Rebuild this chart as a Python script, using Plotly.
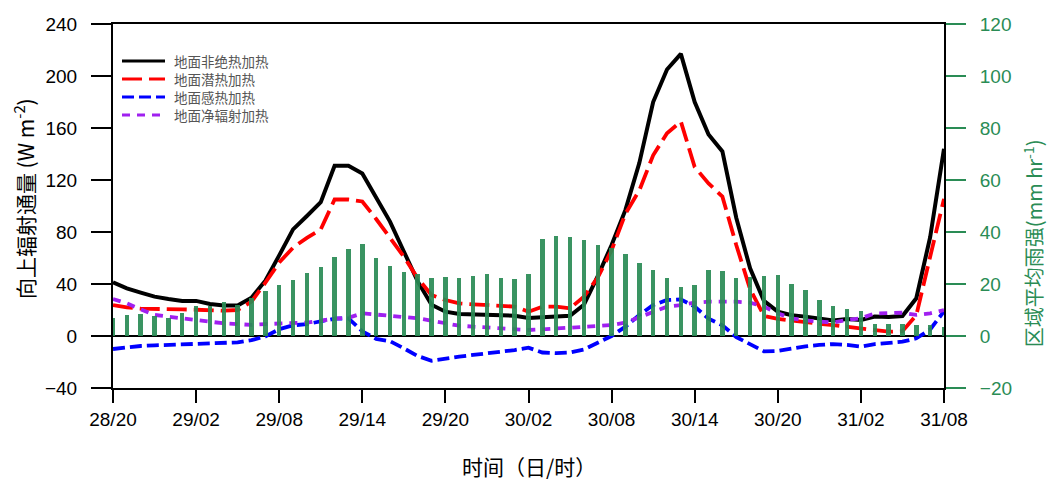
import plotly.graph_objects as go

# Hourly samples from 28/20 to 31/08 (61 hours)
hours = list(range(61))
tick_hours = [0, 6, 12, 18, 24, 30, 36, 42, 48, 54, 60]
tick_labels = ["28/20", "29/02", "29/08", "29/14", "29/20", "30/02",
               "30/08", "30/14", "30/20", "31/02", "31/08"]

# Surface diabatic heating (W m-2)
diabatic = [41.3, 36.7, 33.4, 30.3, 28.5, 27.0, 27.0, 24.6, 23.4, 23.4,
            29.5, 42.5, 62.0, 82.0, 92.3, 103.0, 131.0, 131.0, 125.0, 106.0,
            88.0, 65.0, 42.0, 24.0, 18.7, 16.9, 16.4, 16.2, 16.0, 15.6,
            13.8, 14.5, 14.5, 15.5, 24.0, 46.0, 70.0, 97.0, 133.0, 180.0,
            205.0, 217.0, 180.0, 155.0, 142.0, 91.0, 52.0, 27.0, 18.7, 16.0,
            14.9, 13.6, 12.0, 13.0, 12.3, 15.0, 14.6, 15.4, 29.0, 76.0,
            144.0]
# Surface latent heating
latent = [23.8, 22.0, 21.0, 21.0, 21.0, 20.5, 20.2, 19.8, 19.5, 20.0,
          26.4, 41.0, 56.5, 68.0, 75.5, 82.0, 105.0, 105.0, 103.5, 90.0,
          76.0, 61.0, 44.4, 31.5, 27.7, 25.1, 24.4, 23.8, 23.3, 22.6,
          18.7, 22.6, 22.6, 21.3, 30.3, 45.0, 66.0, 94.0, 112.0, 139.0,
          156.0, 165.0, 130.0, 117.4, 107.2, 70.0, 36.0, 15.5, 13.2, 11.7,
          10.3, 9.4, 8.4, 7.1, 6.0, 4.0, 3.3, 3.7, 16.0, 61.0,
          105.5]
# Surface sensible heating
sensible = [-10.0, -8.7, -7.7, -7.2, -6.9, -6.4, -6.2, -5.6, -5.1, -4.9,
            -3.2, -0.3, 5.2, 8.2, 9.2, 11.0, 13.3, 13.6, 3.6, -2.2,
            -4.0, -9.5, -15.4, -19.0, -17.2, -15.9, -14.6, -13.3, -12.6, -10.8,
            -9.0, -12.7, -13.2, -12.7, -10.4, -5.3, 0.0, 7.2, 16.2, 23.8,
            27.7, 28.2, 22.6, 13.3, 8.2, -0.8, -6.4, -11.8, -11.5, -9.7,
            -8.0, -6.9, -6.2, -6.9, -8.2, -6.2, -5.1, -4.4, -1.8, 5.0,
            19.0]
# Surface net radiative heating
net_rad = [28.5, 25.1, 20.5, 16.2, 14.9, 13.6, 12.3, 11.0, 9.7, 9.2,
           8.5, 9.2, 9.7, 9.5, 10.3, 11.8, 13.3, 14.0, 17.5, 16.5,
           15.6, 14.9, 13.6, 11.8, 9.7, 7.9, 7.2, 6.4, 5.9, 5.4,
           4.6, 5.1, 5.6, 6.7, 7.2, 7.7, 8.5, 10.3, 14.4, 18.7,
           22.6, 23.8, 25.6, 26.4, 26.4, 26.4, 25.6, 22.6, 17.4, 13.6,
           12.0, 11.0, 10.3, 12.3, 13.6, 17.4, 17.9, 17.9, 16.2, 17.4,
           20.0]
# Area-mean rain rate (mm hr-1)
rain = [6.8, 8.1, 8.3, 7.8, 7.1, 8.7, 11.5, 11.5, 13.2, 11.9,
        14.5, 17.4, 19.6, 21.5, 24.1, 26.4, 30.3, 33.3, 35.4, 30.1,
        26.9, 24.6, 23.8, 22.4, 22.7, 22.5, 22.9, 23.7, 22.5, 22.1,
        23.7, 37.2, 38.5, 38.0, 36.9, 35.1, 33.7, 31.5, 28.2, 25.4,
        22.4, 19.0, 19.6, 25.4, 25.0, 22.4, 22.6, 23.1, 23.4, 19.9,
        17.7, 13.9, 11.7, 10.3, 9.8, 4.8, 4.8, 4.8, 4.1, 4.4,
        3.5]

GREEN = "#2A8C55"
LATIN = "Liberation Sans, Arial, sans-serif"
CJK = "Noto Sans CJK SC, sans-serif"

# Plot-area geometry in pixels (used for the hand-placed legend key)
PLOT_L, PLOT_R, PLOT_T, PLOT_B = 113, 944, 24, 388


def px_x(px):
    return (px - PLOT_L) / (PLOT_R - PLOT_L)


def px_y(py):
    return (PLOT_B - py) / (PLOT_B - PLOT_T)


fig = go.Figure()

series = [
    ("地面非绝热加热", diabatic, "#000000", "solid", 4.0),
    ("地面潜热加热", latent, "#FF0000", "20px,7px", 3.8),
    ("地面感热加热", sensible, "#0000FF", "12px,5px", 3.8),
    ("地面净辐射加热", net_rad, "#A020F0", "8px,7px", 3.8),
]
for name, vals, color, dash, width in series:
    fig.add_trace(go.Scatter(
        x=hours, y=vals, mode="lines", name=name,
        line=dict(color=color, width=width, dash=dash),
        yaxis="y", showlegend=False,
    ))

fig.add_trace(go.Bar(
    x=hours, y=rain, width=0.32, marker=dict(color=GREEN, line=dict(width=0)),
    opacity=0.92, yaxis="y2", showlegend=False, name="区域平均雨强",
))

# Legend key: short line samples with labels, top-left inside the frame
for i, (name, _, color, dash, _w) in enumerate(series):
    row_y = 61 + i * 18
    fig.add_shape(
        type="line", xref="paper", yref="paper",
        x0=px_x(122), x1=px_x(165), y0=px_y(row_y), y1=px_y(row_y),
        line=dict(color=color, width=3, dash=dash),
    )
    fig.add_annotation(
        text=name, xref="paper", yref="paper",
        x=px_x(172), y=px_y(row_y), xanchor="left", yanchor="middle",
        showarrow=False,
        font=dict(family=CJK, size=13.5, color="#555555"),
    )

axis_common = dict(
    showgrid=False, showline=True, linecolor="black", linewidth=2,
    ticks="outside", tickwidth=2, tickcolor="black",
    tickfont=dict(family=LATIN, size=19, color="black"),
)

fig.update_layout(
    width=1049, height=482,
    margin=dict(l=113, r=105, t=24, b=94, autoexpand=False),
    paper_bgcolor="white", plot_bgcolor="white",
    bargap=0,
    xaxis=dict(
        axis_common, range=[0, 60], tickvals=tick_hours, ticktext=tick_labels,
        ticklen=13, mirror=True, zeroline=False,
    ),
    yaxis=dict(
        axis_common, range=[-40, 240], tickvals=list(range(-40, 241, 40)),
        ticklen=20, ticklabelstandoff=10, zeroline=True,
        zerolinecolor="black", zerolinewidth=1.5,
    ),
    yaxis2=dict(
        axis_common, overlaying="y", side="right", range=[-20, 120],
        tickvals=list(range(-20, 121, 20)), ticklen=20, ticklabelstandoff=10,
        tickcolor=GREEN, tickfont=dict(family=LATIN, size=19, color=GREEN),
        zeroline=False,
    ),
    showlegend=False,
)

# Axis titles
fig.add_annotation(
    text="向上辐射通量 (W m<sup>-2</sup>)", textangle=-90,
    xref="paper", yref="paper", x=0, y=0.519, xanchor="center", yanchor="middle",
    xshift=-89, showarrow=False,
    font=dict(family=CJK, size=21, color="black"),
)
fig.add_annotation(
    text="区域平均雨强(mm hr<sup>-1</sup>)", textangle=-90,
    xref="paper", yref="paper", x=1, y=0.398, xanchor="center", yanchor="middle",
    xshift=89, showarrow=False,
    font=dict(family=CJK, size=20, color=GREEN),
)
fig.add_annotation(
    text="时间（日/时）",
    xref="paper", yref="paper", x=0.5, y=0, xanchor="center", yanchor="middle",
    yshift=-78, showarrow=False,
    font=dict(family=CJK, size=21, color="black"),
)

fig.write_html("out.html")
